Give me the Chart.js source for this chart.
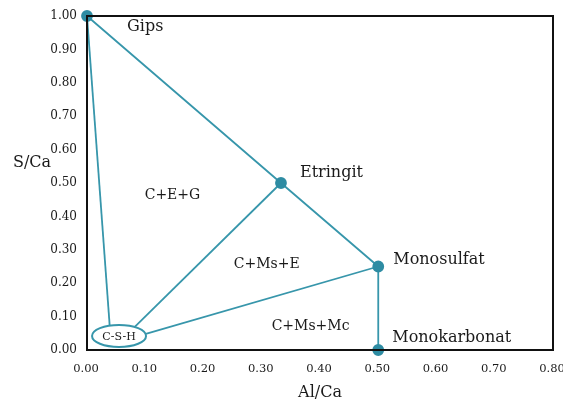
<!DOCTYPE html>
<html>
<head>
<meta charset="utf-8">
<script src="https://cdn.jsdelivr.net/npm/chart.js@4/dist/chart.umd.min.js"></script>
<style>
  html, body { margin: 0; padding: 0; background: #fff; }
  #wrap { width: 563px; height: 403px; }
</style>
</head>
<body>
<div id="wrap"><canvas id="phaseChart"></canvas></div>
<script>
// Phasen (Eckpunkte)
const phaseNames = ["Gips", "Etringit", "Monosulfat", "Monokarbonat"];
const alCa = [0.0, 0.333, 0.5, 0.5];
const sCa = [1.0, 0.5, 0.25, 0.0];

// C-S-H Ellipse und Anknüpfpunkte der Verbindungslinien
const cshLabel = "C-S-H";
const cshX = 0.055;
const cshY = 0.042;
const tieX = [0.039, 0.082, 0.101];
const tieY = [0.072, 0.069, 0.048];

// Phasenfelder
const regionNames = ["C+E+G", "C+Ms+E", "C+Ms+Mc"];
const regionX = [0.099, 0.252, 0.317];
const regionY = [0.464, 0.257, 0.072];

// Achsen
const xTicks = [0, 0.1, 0.2, 0.3, 0.4, 0.5, 0.6, 0.7, 0.8];
const yTicks = [0, 0.1, 0.2, 0.3, 0.4, 0.5, 0.6, 0.7, 0.8, 0.9, 1.0];
const xTitle = "Al/Ca";
const yTitle = "S/Ca";

const lineColor = "#3796ab";
const pointColor = "#2e8ca3";
const textColor = "#1a1a1a";
const fontFamily = "'DejaVu Serif', serif";

const datasets = [{
    data: alCa.map((x, i) => ({ x: x, y: sCa[i] })),
    showLine: true,
    borderColor: lineColor,
    borderWidth: 1.8,
    backgroundColor: pointColor,
    pointBackgroundColor: pointColor,
    pointBorderColor: pointColor,
    pointRadius: 5,
    clip: false
}];
tieX.forEach((x, i) => {
    datasets.push({
        data: [{ x: x, y: tieY[i] }, { x: alCa[i], y: sCa[i] }],
        showLine: true,
        borderColor: lineColor,
        borderWidth: 1.8,
        pointRadius: 0,
        clip: false
    });
});

const labelOffsets = [[40, 11], [19, -10], [15, -7], [14, -12]];

const drawPlugin = {
    id: "drawExtras",
    afterDatasetsDraw(chart) {
        const ctx = chart.ctx;
        const area = chart.chartArea;
        const xs = chart.scales.x;
        const ys = chart.scales.y;
        ctx.save();

        // Rahmen
        ctx.strokeStyle = "#111";
        ctx.lineWidth = 2;
        ctx.strokeRect(area.left, area.top, area.right - area.left, area.bottom - area.top);

        // Ellipse C-S-H
        const cx = xs.getPixelForValue(cshX);
        const cy = ys.getPixelForValue(cshY);
        ctx.beginPath();
        ctx.ellipse(cx, cy, 27, 11, 0, 0, Math.PI * 2);
        ctx.fillStyle = "#fff";
        ctx.fill();
        ctx.strokeStyle = lineColor;
        ctx.lineWidth = 2;
        ctx.stroke();
        ctx.fillStyle = textColor;
        ctx.font = "11px " + fontFamily;
        ctx.textAlign = "center";
        ctx.textBaseline = "middle";
        ctx.fillText(cshLabel, cx, cy + 1);

        // Beschriftung Phasen
        ctx.font = "16px " + fontFamily;
        ctx.textAlign = "left";
        phaseNames.forEach((name, i) => {
            const px = xs.getPixelForValue(alCa[i]) + labelOffsets[i][0];
            const py = ys.getPixelForValue(sCa[i]) + labelOffsets[i][1];
            ctx.fillText(name, px, py);
        });

        // Phasenfelder
        ctx.font = "14px " + fontFamily;
        regionNames.forEach((name, i) => {
            ctx.fillText(name, xs.getPixelForValue(regionX[i]), ys.getPixelForValue(regionY[i]));
        });

        // Achsentitel
        ctx.font = "16px " + fontFamily;
        ctx.textAlign = "center";
        ctx.fillText(yTitle, 32, 163);
        ctx.fillText(xTitle, (area.left + area.right) / 2, 393);
        ctx.restore();
    }
};

new Chart(document.getElementById("phaseChart"), {
    type: "scatter",
    data: { datasets: datasets },
    options: {
        responsive: true,
        maintainAspectRatio: false,
        animation: false,
        layout: { padding: { top: 16, right: 10, left: 0, bottom: 0 } },
        plugins: { legend: { display: false }, tooltip: { enabled: false } },
        scales: {
            x: {
                type: "linear",
                min: 0,
                max: 0.8,
                afterBuildTicks: s => { s.ticks = xTicks.map(v => ({ value: v })); },
                afterFit: s => { s.height = 53; s.paddingLeft = 0; s.paddingRight = 0; },
                grid: { display: false, drawTicks: false },
                border: { display: false },
                ticks: {
                    maxRotation: 0,
                    autoSkip: false,
                    padding: 12,
                    labelOffset: -1,
                    color: textColor,
                    font: { family: fontFamily, size: 11.5 },
                    callback: v => v.toFixed(2)
                }
            },
            y: {
                type: "linear",
                min: 0,
                max: 1,
                afterBuildTicks: s => { s.ticks = yTicks.map(v => ({ value: v })); },
                afterFit: s => { s.width = 87; s.paddingTop = 0; s.paddingBottom = 0; },
                grid: { display: false, drawTicks: false },
                border: { display: false },
                ticks: {
                    autoSkip: false,
                    padding: 10,
                    color: textColor,
                    font: { family: fontFamily, size: 12 },
                    callback: v => v.toFixed(2)
                }
            }
        }
    },
    plugins: [drawPlugin]
});
</script>
</body>
</html>
